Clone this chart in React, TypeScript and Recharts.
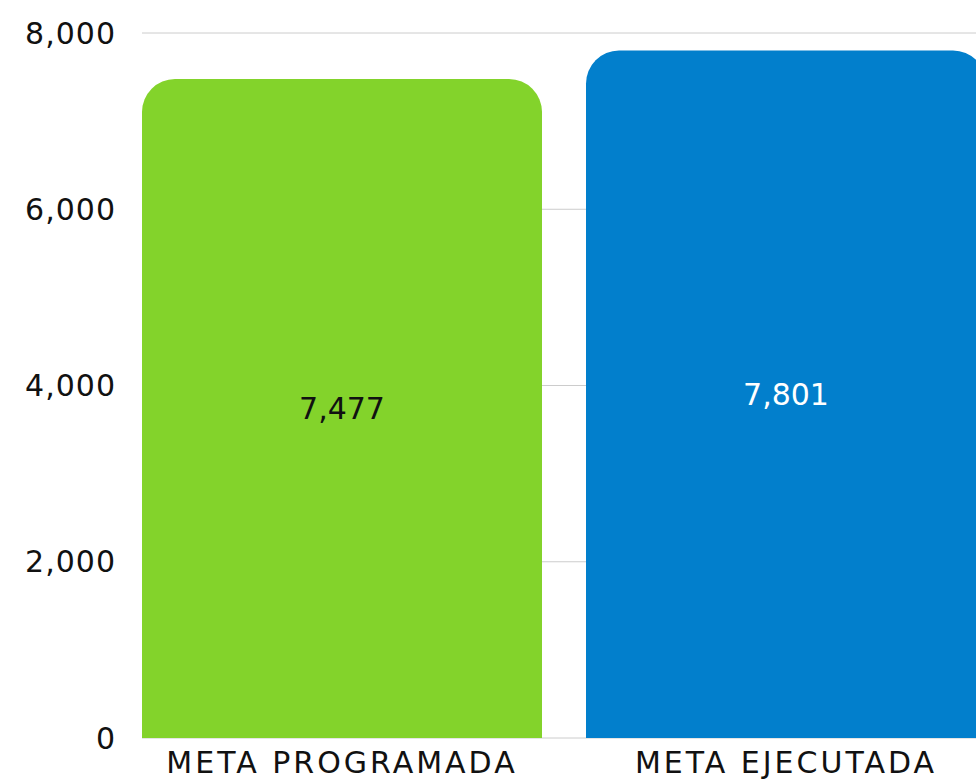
import React from "react";
import { BarChart, Bar, XAxis, YAxis, CartesianGrid, Cell, LabelList } from "recharts";

const categories = ["META PROGRAMADA", "META EJECUTADA"];
const values = [7477, 7801];
const barColors = ["#83D32B", "#027FCC"];
const labelColors = ["#111111", "#FFFFFF"];
const yTicks = [0, 2000, 4000, 6000, 8000];

const data = categories.map((name, i) => ({ name, value: values[i] }));
const FONT = "'DejaVu Sans', sans-serif";
const fmt = (v: number) => v.toLocaleString("en-US");

const renderLabel = (props: any) => {
  const { x, y, width, height, value, index } = props;
  return (
    <text
      x={x + width / 2}
      y={y + height / 2}
      textAnchor="middle"
      dominantBaseline="central"
      fill={labelColors[index]}
      fontSize={30}
      fontFamily={FONT}
    >
      {fmt(value)}
    </text>
  );
};

export default function App() {
  return (
    <div style={{ width: 976, height: 782, overflow: "hidden", position: "relative" }}>
      <style>{`body{margin:0}`}</style>
      <BarChart
        width={1008}
        height={782}
        data={data}
        margin={{ top: 33, right: 0, bottom: 0, left: 0 }}
        barSize={400}
      >
        <CartesianGrid vertical={false} stroke="#cccccc" x={142} width={866} />
        <XAxis
          dataKey="name"
          height={44}
          axisLine={false}
          tickLine={false}
          tickSize={0}
          tickMargin={14}
          interval={0}
          tick={{ fontSize: 30, fill: "#111111", fontFamily: FONT, letterSpacing: 3 }}
        />
        <YAxis
          width={120}
          domain={[0, 8000]}
          ticks={yTicks}
          axisLine={false}
          tickLine={false}
          tickSize={0}
          tickMargin={4}
          tickFormatter={fmt}
          tick={{ fontSize: 30, fill: "#111111", fontFamily: FONT, letterSpacing: 1 }}
        />
        <Bar dataKey="value" radius={[33, 33, 0, 0]} isAnimationActive={false}>
          {data.map((d, i) => (
            <Cell key={d.name} fill={barColors[i]} />
          ))}
          <LabelList dataKey="value" content={renderLabel} />
        </Bar>
      </BarChart>
    </div>
  );
}
